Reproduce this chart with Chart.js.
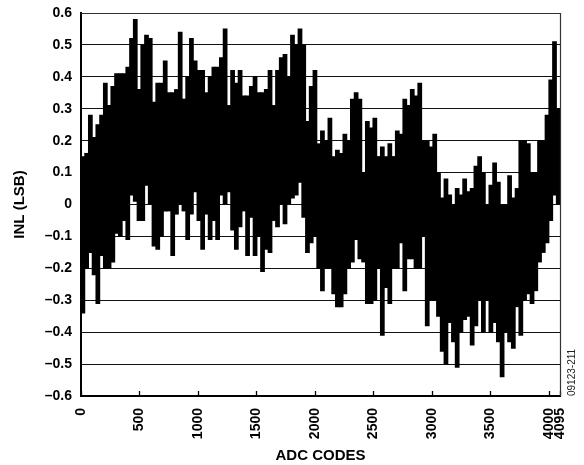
<!DOCTYPE html>
<html>
<head>
<meta charset="utf-8">
<script src="https://cdn.jsdelivr.net/npm/chart.js@4.4.1/dist/chart.umd.min.js"></script>
<style>
  html, body { margin: 0; padding: 0; background: #fff; }
  #wrap { width: 584px; height: 465px; }
</style>
</head>
<body>
<div id="wrap"><canvas id="inlChart" width="584" height="465"></canvas></div>
<script>
const binSize = 32;

const inlHigh = [
  0.15, 0.16, 0.28, 0.21, 0.25, 0.28, 0.38, 0.31, 0.37, 0.41, 0.41, 0.41, 0.43, 0.52, 0.58, 0.36,
  0.50, 0.53, 0.52, 0.32, 0.38, 0.38, 0.45, 0.35, 0.35, 0.36, 0.54, 0.33, 0.40, 0.52, 0.45, 0.42,
  0.42, 0.35, 0.40, 0.43, 0.43, 0.46, 0.55, 0.31, 0.42, 0.38, 0.42, 0.34, 0.34, 0.37, 0.40, 0.35,
  0.35, 0.36, 0.42, 0.31, 0.42, 0.46, 0.47, 0.40, 0.53, 0.50, 0.55, 0.50, 0.26, 0.37, 0.42, 0.19,
  0.23, 0.20, 0.27, 0.15, 0.17, 0.16, 0.22, 0.20, 0.33, 0.35, 0.33, 0.10, 0.26, 0.24, 0.27, 0.15,
  0.18, 0.15, 0.19, 0.15, 0.23, 0.22, 0.33, 0.31, 0.36, 0.34, 0.38, 0.20, 0.20, 0.18, 0.22, 0.10,
  0.02, 0.08, 0.03, 0.00, 0.05, 0.03, 0.08, 0.04, 0.05, 0.12, 0.15, 0.10, 0.00, 0.06, 0.13, 0.07,
  0.00, 0.00, 0.09, 0.02, 0.05, 0.20, 0.20, 0.19, 0.10, 0.10, 0.20, 0.20, 0.28, 0.39, 0.51, 0.30
];

const inlLow = [
  -0.34, -0.20, -0.15, -0.22, -0.31, -0.16, -0.20, -0.20, -0.18, -0.09, -0.10, -0.05, -0.11, 0.03, 0.01, -0.05,
  -0.05, 0.06, 0.00, -0.13, -0.14, -0.10, -0.02, -0.02, -0.16, -0.03, 0.00, -0.02, -0.11, -0.03, 0.04, -0.05,
  -0.14, -0.03, -0.11, -0.05, -0.11, 0.03, 0.00, 0.04, -0.08, -0.14, -0.07, -0.02, -0.16, -0.04, -0.16, -0.10,
  -0.21, -0.14, -0.15, -0.05, -0.07, 0.00, -0.06, 0.00, 0.02, 0.03, 0.07, -0.04, -0.15, -0.12, -0.10, -0.20,
  -0.27, -0.20, -0.20, -0.28, -0.32, -0.32, -0.28, -0.20, -0.18, -0.11, -0.17, -0.18, -0.31, -0.31, -0.30, -0.20,
  -0.41, -0.26, -0.31, -0.20, -0.20, -0.12, -0.27, -0.17, -0.17, -0.20, -0.20, -0.10, -0.38, -0.30, -0.30, -0.35,
  -0.46, -0.50, -0.37, -0.43, -0.51, -0.40, -0.36, -0.35, -0.44, -0.38, -0.30, -0.40, -0.30, -0.40, -0.37, -0.43,
  -0.54, -0.40, -0.43, -0.45, -0.32, -0.41, -0.30, -0.28, -0.31, -0.27, -0.18, -0.15, -0.12, -0.05, 0.03, 0.00
];

const xTickValues = [0, 500, 1000, 1500, 2000, 2500, 3000, 3500, 4000, 4095];
const yMin = -0.6, yMax = 0.6, yStep = 0.1;
const figureNote = "09123-211";

const FONT = "Arial, 'Liberation Sans', Helvetica, sans-serif";
Chart.defaults.color = "#000";
Chart.defaults.font.family = FONT;

const bandData = inlHigh.map((hi, i) => ({ x: i * binSize + binSize / 2, y: [inlLow[i], hi] }));

function fmtY(v) {
  const r = Math.round(v * 10) / 10;
  if (r === 0) return "0";
  return (r < 0 ? "\u2013" : "") + Math.abs(r).toFixed(1);
}

// inward ticks on the code axis, thin top/right frame, figure number
const framePlugin = {
  id: "frame",
  afterDatasetsDraw(chart) {
    const { ctx, chartArea: a, scales: { x } } = chart;
    ctx.save();
    ctx.strokeStyle = "#000";
    ctx.lineWidth = 1.3;
    x.ticks.forEach(t => {
      const px = Math.round(x.getPixelForValue(t.value)) + 0.5;
      ctx.beginPath();
      ctx.moveTo(px, a.bottom);
      ctx.lineTo(px, a.bottom - 5);
      ctx.stroke();
    });
    ctx.strokeStyle = "#333";
    ctx.lineWidth = 1.2;
    ctx.beginPath();
    ctx.moveTo(a.left, a.top + 0.5);
    ctx.lineTo(a.right + 0.5, a.top + 0.5);
    ctx.lineTo(a.right + 0.5, a.bottom);
    ctx.stroke();
    ctx.restore();
  },
  afterDraw(chart) {
    const { ctx, chartArea: a } = chart;
    ctx.save();
    ctx.translate(a.right + 12, a.bottom);
    ctx.rotate(-Math.PI / 2);
    ctx.font = "10px " + FONT;
    ctx.fillStyle = "#222";
    ctx.textAlign = "left";
    ctx.textBaseline = "middle";
    ctx.fillText(figureNote, 0, 0);
    ctx.restore();
  }
};

const ctx = document.getElementById("inlChart").getContext("2d");
const inlChart = new Chart(ctx, {
  type: "bar",
  data: {
    datasets: [{
      label: "INL",
      data: bandData,
      backgroundColor: "#000",
      borderWidth: 0,
      barPercentage: 1,
      categoryPercentage: 1,
      inflateAmount: 0.5,
      grouped: false
    }]
  },
  options: {
    responsive: false,
    animation: false,
    layout: { padding: { top: 13, right: 24, left: 0, bottom: 0 } },
    plugins: {
      legend: { display: false },
      tooltip: { enabled: false }
    },
    scales: {
      x: {
        type: "linear",
        min: 0,
        max: 4095,
        offset: false,
        afterFit: s => { s.height = 69; },
        afterBuildTicks: s => { s.ticks = xTickValues.map(v => ({ value: v })); },
        grid: { display: false, drawTicks: false },
        border: { display: true, color: "#000", width: 2 },
        ticks: {
          autoSkip: false,
          minRotation: 90,
          maxRotation: 90,
          padding: 12,
          // small lineHeight keeps the auto label padding from shrinking the plot
          font: { size: 14, weight: "bold", lineHeight: 0.4 },
          callback: v => String(v)
        },
        title: {
          display: true,
          text: "ADC CODES",
          font: { size: 15, weight: "bold" },
          padding: { top: 0, bottom: 0 }
        }
      },
      y: {
        min: yMin,
        max: yMax,
        afterFit: s => { s.width = 81; },
        grid: { color: "#111", lineWidth: 1, drawTicks: false },
        border: { display: true, color: "#000", width: 2 },
        ticks: {
          stepSize: yStep,
          padding: 9,
          font: { size: 14, weight: "bold", lineHeight: 0.4 },
          callback: v => fmtY(v)
        },
        title: {
          display: true,
          text: "INL (LSB)",
          font: { size: 15, weight: "bold" },
          padding: { top: 11, bottom: 0 }
        }
      }
    }
  },
  plugins: [framePlugin]
});
</script>
</body>
</html>
